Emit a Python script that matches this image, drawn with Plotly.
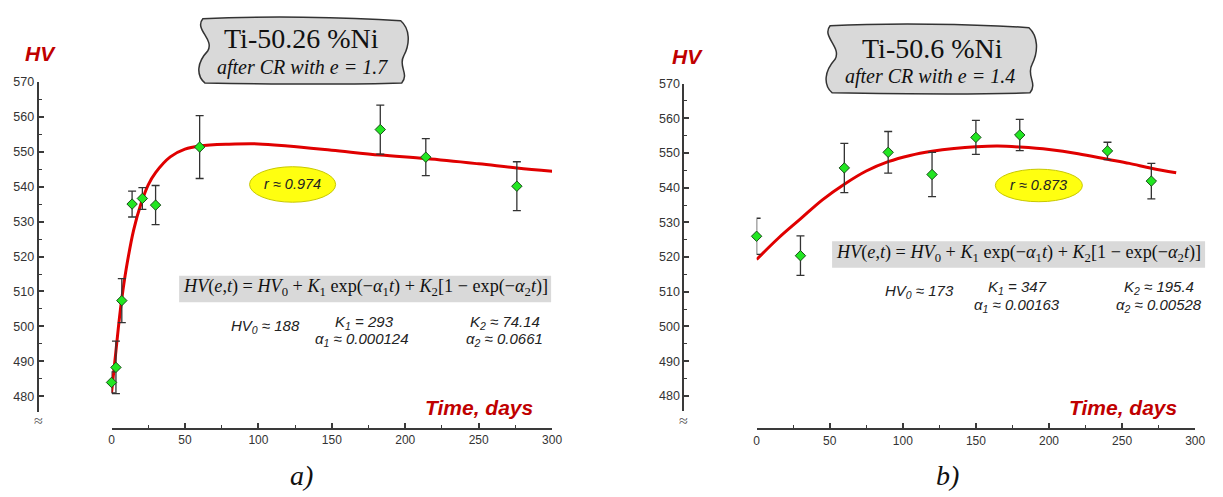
import plotly.graph_objects as go

W, H = 1223, 497

# ---------------- data ----------------
days_a = [0, 3, 7, 14, 21, 30, 60, 183, 214, 276]
hv_a = [484.0, 488.3, 507.4, 535.0, 536.6, 534.7, 551.3, 556.3, 548.4, 540.1]
err_a = [3.0, 7.5, 6.3, 3.7, 3.1, 5.6, 9.0, 7.0, 5.3, 7.0]

fit_t_a = [0, 3, 5, 7, 10, 15, 20, 25, 30, 40, 50, 60, 80, 100, 120, 150, 183, 214, 250, 276, 300]
fit_hv_a = [481.0, 493.0, 501.0, 508.0, 516.5, 527.5, 535.0, 540.5, 544.0, 548.5, 550.7, 551.6,
            552.1, 552.2, 551.6, 550.4, 549.0, 548.0, 546.5, 545.3, 544.4]

days_b = [0, 30, 60, 90, 120, 150, 180, 240, 270]
hv_b = [526.0, 520.4, 545.7, 550.2, 543.8, 554.5, 555.2, 550.6, 541.9]
err_b = [5.2, 5.7, 7.1, 6.0, 6.4, 4.9, 4.5, 2.5, 5.1]

fit_t_b = [0, 15, 30, 45, 60, 75, 90, 105, 120, 135, 150, 165, 180, 200, 220, 240, 255, 270, 287]
fit_hv_b = [519.3, 525.5, 531.0, 536.5, 541.0, 544.8, 547.5, 549.3, 550.5, 551.3, 551.8, 552.0,
            551.7, 551.0, 549.8, 548.2, 547.0, 545.6, 544.3]

x_range = [0, 300]
y_range = [475.6, 570]

title_a = "Ti-50.26 %Ni"
sub_a = "after CR with e = 1.7"
title_b = "Ti-50.6 %Ni"
sub_b = "after CR with e = 1.4"
r_a = "r ≈ 0.974"
r_b = "r ≈ 0.873"
params_a = ["<i>HV<sub>0</sub> ≈ 188</i>", "<i>K<sub>1</sub> = 293</i>", "<i>α<sub>1</sub> ≈ 0.000124</i>",
            "<i>K<sub>2</sub> ≈ 74.14</i>", "<i>α<sub>2</sub> ≈ 0.0661</i>"]
params_b = ["<i>HV<sub>0</sub> ≈ 173</i>", "<i>K<sub>1</sub> = 347</i>", "<i>α<sub>1</sub> ≈ 0.00163</i>",
            "<i>K<sub>2</sub> ≈ 195.4</i>", "<i>α<sub>2</sub> ≈ 0.00528</i>"]
formula = ("<i>HV</i>(<i>e</i>,<i>t</i>) = <i>HV</i><sub>0</sub> + <i>K</i><sub>1</sub> exp(−<i>α</i><sub>1</sub><i>t</i>) + "
           "<i>K</i><sub>2</sub>[1 − exp(−<i>α</i><sub>2</sub><i>t</i>)]")


def fx(p):
    return p / W


def fy(p):
    return 1 - p / H


RED = "#C00000"
CURVE = "#E00000"
AX = "#3a3a3a"
GREEN = "#22E622"

fig = go.Figure()

for t, v, xa, ya in [(fit_t_a, fit_hv_a, "x", "y"), (fit_t_b, fit_hv_b, "x2", "y2")]:
    fig.add_trace(go.Scatter(x=t, y=v, mode="lines", line=dict(color=CURVE, width=3, shape="spline"),
                             xaxis=xa, yaxis=ya, showlegend=False, hoverinfo="skip"))

for d, v, e, xa, ya in [(days_a, hv_a, err_a, "x", "y"), (days_b, hv_b, err_b, "x2", "y2")]:
    fig.add_trace(go.Scatter(x=d, y=v, mode="markers",
                             marker=dict(symbol="diamond", size=8, color=GREEN,
                                         line=dict(color="#1a4d1a", width=1)),
                             error_y=dict(type="data", array=e, visible=True, color="#333333",
                                          thickness=1.3, width=4),
                             cliponaxis=False, xaxis=xa, yaxis=ya, showlegend=False))


def xaxis_cfg(x0, x1, pos):
    return dict(domain=[fx(x0), fx(x1)], range=x_range, anchor="free", position=fy(pos),
                showline=True, linecolor=AX, linewidth=2, ticks="inside", ticklen=5,
                tickwidth=1.5, tickcolor=AX, tick0=0, dtick=50,
                tickfont=dict(family="Liberation Sans", size=12, color="#333333"),
                minor=dict(dtick=25, tick0=0, ticks="inside", ticklen=3, tickcolor=AX, tickwidth=1.2),
                showgrid=False, zeroline=False, fixedrange=True)


def yaxis_cfg(ybot, ytop, pos):
    return dict(domain=[fy(ybot), fy(ytop)], range=y_range, anchor="free", position=fx(pos),
                side="left", showline=True, linecolor=AX, linewidth=2, ticks="inside", ticklen=5,
                tickwidth=1.5, tickcolor=AX, tick0=0, dtick=10,
                tickfont=dict(family="Liberation Sans", size=12.5, color="#333333"),
                minor=dict(dtick=5, tick0=0, ticks="inside", ticklen=3, tickcolor=AX, tickwidth=1.2),
                showgrid=False, zeroline=False, fixedrange=True)


def bubble(x0, y0, x1, y1):
    w = x1 - x0
    h = y1 - y0

    def P(x, y):
        return f"{fx(x):.5f},{fy(y):.5f}"
    return (f"M {P(x0 + 3, y0)} "
            f"C {P(x0 + 0.3 * w, y0 - 3)} {P(x0 + 0.7 * w, y0 - 2)} {P(x1 - 6, y0 + 2)} "
            f"C {P(x1 + 3, y0 + 0.15 * h)} {P(x1 + 4, y0 + 0.38 * h)} {P(x1 - 3, y0 + 0.58 * h)} "
            f"C {P(x1 - 9, y0 + 0.74 * h)} {P(x1 + 3, y0 + 0.86 * h)} {P(x1 - 5, y1)} "
            f"C {P(x0 + 0.7 * w, y1 + 2)} {P(x0 + 0.3 * w, y1 + 1)} {P(x0 + 5, y1)} "
            f"C {P(x0 - 4, y1 - 0.12 * h)} {P(x0 - 3, y1 - 0.32 * h)} {P(x0 + 8, y0 + 0.5 * h)} "
            f"C {P(x0 + 15, y0 + 0.32 * h)} {P(x0 - 6, y0 + 0.16 * h)} {P(x0 + 3, y0)} Z")


shapes = []
for (bx0, by0, bx1, by1) in [(199, 12, 408, 77), (833, 19, 1043, 87)]:
    shapes.append(dict(type="path", path=bubble(bx0, by0, bx1, by1), xref="paper", yref="paper",
                       fillcolor="#D9D9D9", line=dict(color="#333333", width=1.5), layer="below"))
for (rx0, ry0, rx1, ry1) in [(178, 272.5, 554, 299.5), (838, 237.5, 1215, 264.5)]:
    shapes.append(dict(type="rect", x0=fx(rx0), x1=fx(rx1), y0=fy(ry1), y1=fy(ry0), xref="paper",
                       yref="paper", fillcolor="#D9D9D9", line=dict(width=0), layer="below"))
for (cx, cy, rx, ry) in [(292.7, 180, 43.5, 18), (1047, 181, 44, 16.5)]:
    shapes.append(dict(type="circle", x0=fx(cx - rx), x1=fx(cx + rx), y0=fy(cy + ry), y1=fy(cy - ry),
                       xref="paper", yref="paper", fillcolor="#FFFF10",
                       line=dict(color="#C8C800", width=1), layer="below"))

ann = []


def A(text, x, y, size, family="Liberation Sans", color="#222222"):
    ann.append(dict(text=text, x=fx(x), y=fy(y), xref="paper", yref="paper", showarrow=False,
                    xanchor="center", yanchor="middle", font=dict(family=family, size=size, color=color)))


FS = 18.2
# panel a texts
A("<b><i>HV</i></b>", 38, 47, 21, color=RED)
A("<b><i>Time, days</i></b>", 481, 406, 21, color=RED)
A(title_a, 301.5, 32, 28, family="Liberation Serif", color="#111111")
A(f"<i>{sub_a}</i>", 302.5, 61, 20, family="Liberation Serif", color="#111111")
A(formula, 366, 285, FS, family="Liberation Serif", color="#111111")
A(f"<i>{r_a}</i>", 292.7, 180, 14.5)
for txt, (px_, py_) in zip(params_a, [(265, 324.5), (365, 320), (363, 337), (507, 320), (507, 337)]):
    A(txt, px_, py_, 15)
A("≈", 36, 419, 16, family="Liberation Serif", color="#555555")
A("<i>a)</i>", 302, 475, 28, family="Liberation Serif", color="#111111")

# panel b texts
A("<b><i>HV</i></b>", 692, 50, 21, color=RED)
A("<b><i>Time, days</i></b>", 1132, 406, 21, color=RED)
A(title_b, 939.5, 42, 28, family="Liberation Serif", color="#111111")
A(f"<i>{sub_b}</i>", 937, 71, 20, family="Liberation Serif", color="#111111")
A(formula, 1026.5, 250, FS, family="Liberation Serif", color="#111111")
A(f"<i>{r_b}</i>", 1047, 181, 14.5)
for txt, (px_, py_) in zip(params_b, [(926, 289), (1025, 285), (1025, 303), (1168, 285), (1168, 303)]):
    A(txt, px_, py_, 15)
A("≈", 688, 419, 16, family="Liberation Serif", color="#555555")
A("<i>b)</i>", 955, 475, 28, family="Liberation Serif", color="#111111")

fig.update_layout(
    width=W, height=H, margin=dict(l=0, r=0, t=0, b=0),
    paper_bgcolor="white", plot_bgcolor="white",
    xaxis=xaxis_cfg(109.7, 555, 428),
    yaxis=yaxis_cfg(410.6, 75.7, 35),
    xaxis2=xaxis_cfg(761.7, 1205, 428.3),
    yaxis2=yaxis_cfg(409.9, 77.7, 687.7),
    shapes=shapes, annotations=ann, showlegend=False,
)

fig.write_html("out.html")
